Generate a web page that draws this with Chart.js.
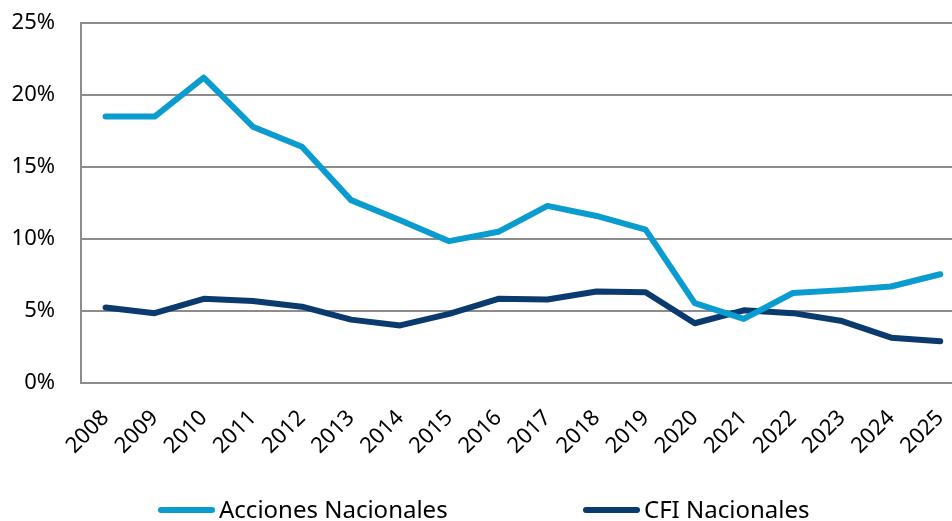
<!DOCTYPE html>
<html>
<head>
<meta charset="utf-8">
<script src="https://cdn.jsdelivr.net/npm/chart.js@4.4.1/dist/chart.umd.min.js"></script>
<style>
  html, body { margin: 0; padding: 0; background: #fff; overflow: hidden; }
  #wrap { width: 952px; height: 521px; }
</style>
</head>
<body>
<div id="wrap"><canvas id="myChart"></canvas></div>
<script>
  // data
  const years = ["2008", "2009", "2010", "2011", "2012", "2013", "2014", "2015", "2016",
    "2017", "2018", "2019", "2020", "2021", "2022", "2023", "2024", "2025"];
  const acciones = [18.5, 18.5, 21.2, 17.8, 16.4, 12.7, 11.3, 9.85, 10.5,
    12.3, 11.6, 10.65, 5.55, 4.45, 6.25, 6.45, 6.7, 7.55];
  const cfi = [5.25, 4.85, 5.85, 5.7, 5.3, 4.4, 4.0, 4.8, 5.85,
    5.8, 6.35, 6.3, 4.15, 5.05, 4.85, 4.3, 3.15, 2.9];
  const yTicks = [0, 5, 10, 15, 20, 25];

  const FONT = "Noto Sans";

  // legend drawn by hand, items spread apart like the original
  const legendPlugin = {
    id: "wideLegend",
    afterDraw(chart, args, opts) {
      const ctx = chart.ctx;
      ctx.save();
      ctx.font = "24px '" + FONT + "'";
      ctx.textBaseline = "middle";
      ctx.fillStyle = "#000";
      chart.data.datasets.forEach((ds, i) => {
        const x = opts.starts[i];
        ctx.strokeStyle = ds.borderColor;
        ctx.lineWidth = 6;
        ctx.lineCap = "round";
        ctx.beginPath();
        ctx.moveTo(x + 3, opts.y);
        ctx.lineTo(x + 54, opts.y);
        ctx.stroke();
        ctx.fillText(ds.label, x + 61, opts.y + 1);
      });
      ctx.restore();
    }
  };

  const config1 = {
    type: "line",
    data: {
      datasets: [
        {
          label: "Acciones Nacionales",
          borderColor: "#0a9ccf",
          backgroundColor: "#0a9ccf",
          data: acciones.map((v, i) => ({ x: i, y: v })),
        },
        {
          label: "CFI Nacionales",
          borderColor: "#0b3a6e",
          backgroundColor: "#0b3a6e",
          data: cfi.map((v, i) => ({ x: i, y: v })),
        },
      ],
    },
    options: {
      responsive: true,
      maintainAspectRatio: false,
      animation: false,
      layout: { padding: { top: 23, right: 0, bottom: 0, left: 0 } },
      elements: {
        line: { borderWidth: 6, tension: 0, borderCapStyle: "round", borderJoinStyle: "round" },
        point: { radius: 0 },
      },
      plugins: {
        legend: { display: false },
        tooltip: { enabled: false },
        wideLegend: { y: 510, starts: [158, 583] },
      },
      scales: {
        x: {
          type: "linear",
          min: -0.5,
          max: 17.24,
          grid: { display: false, drawTicks: false },
          border: { display: false },
          afterBuildTicks: (scale) => {
            scale.ticks = years.map((_, i) => ({ value: i }));
          },
          afterFit: (scale) => {
            scale.height = 138;
            scale.paddingLeft = 0;
            scale.paddingRight = 0;
          },
          ticks: {
            autoSkip: false,
            minRotation: 45,
            maxRotation: 45,
            padding: 22,
            color: "#000",
            font: { family: FONT, size: 22 },
            callback: (v) => years[v],
          },
        },
        y: {
          min: 0,
          max: 25,
          grid: { color: "#8c8c8c", lineWidth: 2, drawTicks: false },
          border: { display: true, color: "#8c8c8c", width: 2 },
          afterBuildTicks: (scale) => {
            scale.ticks = yTicks.map((v) => ({ value: v }));
          },
          afterFit: (scale) => {
            scale.width = 81;
            scale.paddingTop = 0;
            scale.paddingBottom = 0;
          },
          ticks: {
            padding: 26,
            color: "#000",
            font: { family: FONT, size: 22 },
            callback: (v) => v + "%",
          },
        },
      },
    },
    plugins: [legendPlugin],
  };

  var myChart1 = new Chart(document.getElementById("myChart"), config1);
</script>
</body>
</html>
